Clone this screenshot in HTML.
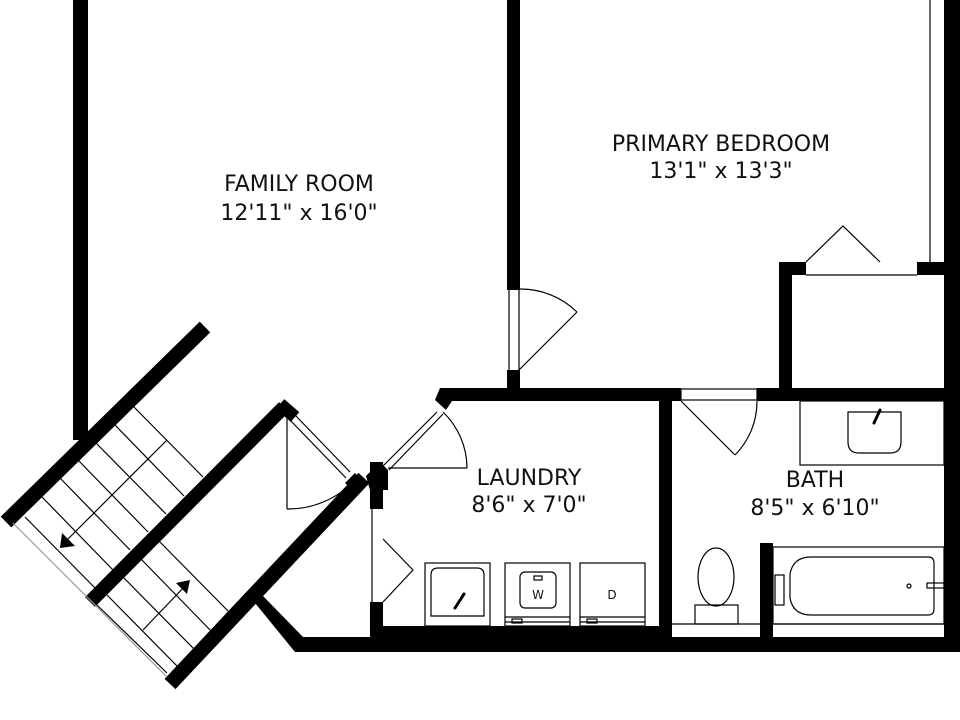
<!DOCTYPE html>
<html><head><meta charset="utf-8"><style>
html,body{margin:0;padding:0;background:#fff;width:960px;height:720px;overflow:hidden}
svg{display:block}
text{font-family:"DejaVu Sans","Liberation Sans",sans-serif;fill:#111}
</style></head><body>
<svg width="960" height="720" viewBox="0 0 960 720" xmlns="http://www.w3.org/2000/svg">
<rect width="960" height="720" fill="#fff"/>
<g fill="#000">
<rect x="73" y="0" width="15" height="440"/>
<rect x="507" y="0" width="13" height="290"/>
<rect x="507" y="370" width="13" height="31"/>
<rect x="944" y="0" width="16" height="652"/>
<rect x="779" y="262" width="27" height="13"/>
<rect x="917" y="262" width="27" height="13"/>
<rect x="779" y="262" width="13" height="139"/>
<rect x="452" y="388" width="229" height="13"/>
<rect x="757" y="388" width="187" height="13"/>
<polygon points="452,388 452,401 446,410 435,400 440,388"/>
<rect x="659" y="401" width="13" height="240"/>
<rect x="760" y="543" width="13" height="100"/>
<rect x="370" y="462" width="13" height="47"/>
<rect x="370" y="602" width="13" height="40"/>
<polygon points="370,490 388,490 388,470 380,462 366,476"/>
<rect x="370" y="626" width="289" height="26"/>
<rect x="300" y="637" width="660" height="15"/>
<polygon points="255,603 263,596 303,637 300,652 295,652"/>
</g>
<g stroke="#000" fill="none" stroke-linecap="butt">
<line x1="364" y1="478" x2="170" y2="684" stroke-width="15"/>
<line x1="205" y1="327" x2="6" y2="522" stroke-width="15"/>
<line x1="284" y1="407" x2="90" y2="602" stroke-width="14"/>
<line x1="280" y1="404" x2="295" y2="417" stroke-width="13"/>
<line x1="350" y1="478" x2="360" y2="488" stroke-width="14"/>
</g>
<g stroke="#000" stroke-width="1.2" fill="none">
<line x1="295" y1="415" x2="350" y2="472"/>
<line x1="290" y1="420" x2="346" y2="478"/>
<line x1="287" y1="418" x2="287" y2="509"/>
<path d="M287,509 A91,91 0 0 0 352,483"/>
<line x1="383" y1="466" x2="437" y2="412"/>
<line x1="389" y1="470" x2="443" y2="414"/>
<line x1="388" y1="468" x2="467" y2="468"/>
<path d="M443,412 A78,78 0 0 1 467,468"/>
<line x1="372" y1="509" x2="372" y2="602"/>
<polyline points="383,539 413,570 383,602"/>
<line x1="519" y1="290" x2="519" y2="370"/>
<line x1="509" y1="290" x2="509" y2="370"/>
<path d="M519,289 A81,81 0 0 1 577,312"/>
<line x1="519" y1="370" x2="577" y2="312"/>
<polyline points="806,262 843,226 880,262"/>
<line x1="806" y1="275" x2="917" y2="275"/>
<line x1="930" y1="0" x2="930" y2="262"/>
<rect x="681" y="389" width="76" height="11"/>
<line x1="681" y1="401" x2="735" y2="455"/>
<path d="M757,401 A76,76 0 0 1 735,455"/>
<line x1="13" y1="523" x2="167" y2="677" stroke="#999"/>
<line x1="97" y1="605" x2="167" y2="673"/>
<line x1="25" y1="517" x2="97" y2="590"/>
<line x1="42" y1="497" x2="113" y2="570"/>
<line x1="60" y1="478" x2="130" y2="550"/>
<line x1="78" y1="460" x2="148" y2="532"/>
<line x1="95" y1="442" x2="166" y2="514"/>
<line x1="113" y1="423" x2="184" y2="496"/>
<line x1="132" y1="405" x2="203" y2="477"/>
<line x1="167" y1="440" x2="64" y2="543"/>
<line x1="158" y1="540" x2="230" y2="613"/>
<line x1="140" y1="558" x2="212" y2="632"/>
<line x1="123" y1="577" x2="195" y2="650"/>
<line x1="107" y1="595" x2="177" y2="666"/>
<line x1="143" y1="630" x2="186" y2="585"/>
<rect x="425" y="563" width="65" height="63"/>
<path d="M431,616 L431,575 Q431,568 438,568 L477,568 Q484,568 484,575 L484,616 Z"/>
<rect x="505" y="563" width="65" height="63"/>
<rect x="520" y="572" width="36" height="36" rx="5"/>
<rect x="534" y="576" width="8" height="4"/>
<line x1="505" y1="617" x2="570" y2="617"/>
<line x1="505" y1="622" x2="570" y2="622"/>
<rect x="512" y="619" width="10" height="4"/>
<rect x="580" y="563" width="65" height="63"/>
<line x1="580" y1="617" x2="645" y2="617"/>
<line x1="580" y1="622" x2="645" y2="622"/>
<rect x="587" y="619" width="10" height="4"/>
<rect x="800" y="401" width="144" height="64"/>
<path d="M848,412 L901,412 L901,442 Q901,453 890,453 L859,453 Q848,453 848,442 Z"/>
<line x1="672" y1="624" x2="760" y2="624"/>
<line x1="773" y1="624" x2="944" y2="624"/>
<ellipse cx="716" cy="577" rx="18" ry="29"/>
<rect x="695" y="605" width="43" height="19"/>
<rect x="773" y="547" width="171" height="77"/>
<path d="M811,557 L928,557 Q934,557 934,563 L934,609 Q934,615 928,615 L811,615 Q793,615 790,598 L790,574 Q793,557 811,557 Z"/>
<circle cx="909" cy="586" r="2"/>
<rect x="927" y="583" width="17" height="5"/>
<rect x="775" y="575" width="9" height="30"/>
</g>
<g stroke="#000" stroke-width="3" stroke-linecap="round">
<line x1="455" y1="608" x2="464" y2="594"/>
<line x1="874" y1="423" x2="880" y2="410"/>
</g>
<g fill="#000">
<polygon points="60,548 62,533 75,546"/>
<polygon points="190,580 176,583 187,594"/>
</g>
<g text-anchor="middle" font-size="22">
<text x="299" y="191">FAMILY ROOM</text>
<text x="299" y="220">12'11" x 16'0"</text>
<text x="721" y="151">PRIMARY BEDROOM</text>
<text x="721" y="178">13'1" x 13'3"</text>
<text x="529" y="485">LAUNDRY</text>
<text x="529" y="512">8'6" x 7'0"</text>
<text x="815" y="487">BATH</text>
<text x="815" y="515">8'5" x 6'10"</text>
<text x="538" y="599" font-size="12">W</text>
<text x="612" y="599" font-size="12">D</text>
</g>
</svg>
</body></html>
